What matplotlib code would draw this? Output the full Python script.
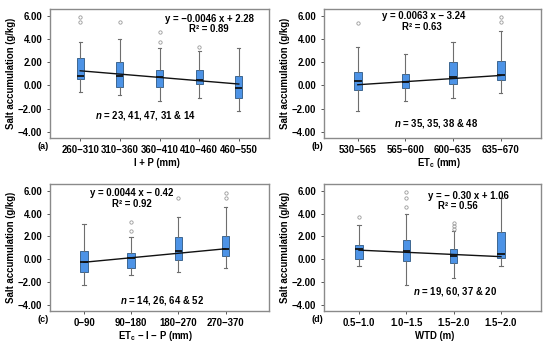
import matplotlib
matplotlib.use("Agg")
import matplotlib.pyplot as plt
from matplotlib.ticker import FuncFormatter

plt.rcParams['font.family'] = ['Liberation Sans', 'DejaVu Sans']
plt.rcParams['font.weight'] = 'bold'
plt.rcParams['mathtext.fontset'] = 'custom'
plt.rcParams['mathtext.rm'] = 'Liberation Sans:bold'
plt.rcParams['mathtext.bf'] = 'Liberation Sans:bold'
plt.rcParams['mathtext.it'] = 'Liberation Sans:italic:bold'
plt.rcParams['mathtext.bfit'] = 'Liberation Sans:italic:bold'

# ---- panel (a): I + P ----
a_cats = ['260\u2212310', '310\u2212360', '360\u2212410', '410\u2212460', '460\u2212550']
a_whislo = [-0.57, -0.80, -1.38, -1.12, -2.21]
a_q1 = [0.52, -0.11, -0.17, 0.11, -1.12]
a_med = [0.83, 0.78, 0.69, 0.50, -0.20]
a_q3 = [2.39, 1.98, 1.32, 1.29, 0.78]
a_whishi = [3.71, 3.97, 3.19, 2.96, 3.19]
a_fliers = [[5.43, 5.89], [5.43], [3.71, 4.63], [3.28], []]
a_trend = [1.26, 0.12]
a_eq = 'y = \u22120.0046 x + 2.28'
a_r2 = 'R\u00b2 = 0.89'
a_n = '23, 41, 47, 31 & 14'

# ---- panel (b): ETc ----
b_cats = ['530\u2212565', '565\u2212600', '600\u2212635', '635\u2212670']
b_whislo = [-2.18, -1.32, -1.09, -0.66]
b_q1 = [-0.40, -0.26, 0.11, 0.43]
b_med = [0.38, 0.32, 0.75, 0.90]
b_q3 = [1.18, 1.01, 2.04, 2.10]
b_whishi = [3.30, 2.73, 3.71, 4.66]
b_fliers = [[5.40], [], [], [5.43, 5.89]]
b_trend = [0.06, 0.86]
b_eq = 'y = 0.0063 x \u2212 3.24'
b_r2 = 'R\u00b2 = 0.63'
b_n = '35, 35, 38 & 48'

# ---- panel (c): ETc - I - P ----
c_cats = ['0\u221290', '90\u2212180', '180\u2212270', '270\u2212370']
c_whislo = [-2.24, -1.38, -1.12, -0.72]
c_q1 = [-1.12, -0.72, -0.03, 0.26]
c_med = [-0.26, 0.11, 0.75, 0.88]
c_q3 = [0.75, 0.55, 1.98, 2.07]
c_whishi = [3.13, 1.93, 3.71, 4.57]
c_fliers = [[], [2.50, 3.22], [5.34], [5.37, 5.80]]
c_trend = [-0.26, 0.92]
c_eq = 'y = 0.0044 x \u2212 0.42'
c_r2 = 'R\u00b2 = 0.92'
c_n = '14, 26, 64 & 52'

# ---- panel (d): WTD ----
d_cats = ['0.5\u22121.0', '1.0\u22121.5', '1.5\u22122.0', '1.5\u22122.0']
d_whislo = [-0.55, -2.24, -1.67, -0.63]
d_q1 = [0.0, -0.11, -0.29, 0.09]
d_med = [0.86, 0.72, 0.29, 0.46]
d_q3 = [1.29, 1.70, 0.89, 2.39]
d_whishi = [2.96, 3.94, 2.47, 5.37]
d_fliers = [[3.68], [4.60, 5.40, 5.89], [2.64, 2.87, 3.19], []]
d_trend = [0.80, 0.23]
d_eq = 'y = \u2212 0.30 x + 1.06'
d_r2 = 'R\u00b2 = 0.56'
d_n = '19, 60, 37 & 20'

panels = [
    dict(rect=[0.091, 0.602, 0.398, 0.372], xlim=(0.24, 5.76), cats=a_cats,
         lo=a_whislo, q1=a_q1, med=a_med, q3=a_q3, hi=a_whishi, fl=a_fliers,
         trend=a_trend, eq=a_eq, r2=a_r2, n=a_n, width=0.18,
         eqpos=(0.726, 0.922), r2pos=(0.726, 0.845), npos=(0.436, 0.169),
         xlabel='I + P (mm)', xlpos=0.489, tag='(a)'),
    dict(rect=[0.589, 0.602, 0.395, 0.372], xlim=(0.29, 4.85), cats=b_cats,
         lo=b_whislo, q1=b_q1, med=b_med, q3=b_q3, hi=b_whishi, fl=b_fliers,
         trend=b_trend, eq=b_eq, r2=b_r2, n=b_n, width=0.16,
         eqpos=(0.46, 0.948), r2pos=(0.45, 0.862), npos=(0.516, 0.112),
         xlabel='ET$_{\\mathbf{c}}$ (mm)', xlpos=0.528, tag='(b)'),
    dict(rect=[0.091, 0.102, 0.398, 0.366], xlim=(0.28, 4.92), cats=c_cats,
         lo=c_whislo, q1=c_q1, med=c_med, q3=c_q3, hi=c_whishi, fl=c_fliers,
         trend=c_trend, eq=c_eq, r2=c_r2, n=c_n, width=0.16,
         eqpos=(0.373, 0.929), r2pos=(0.373, 0.845), npos=(0.511, 0.082),
         xlabel='ET$_{\\mathbf{c}}$ \u2212 I \u2212 P (mm)', xlpos=0.483, tag='(c)'),
    dict(rect=[0.589, 0.102, 0.395, 0.366], xlim=(0.26, 4.85), cats=d_cats,
         lo=d_whislo, q1=d_q1, med=d_med, q3=d_q3, hi=d_whishi, fl=d_fliers,
         trend=d_trend, eq=d_eq, r2=d_r2, n=d_n, width=0.16,
         eqpos=(0.664, 0.903), r2pos=(0.617, 0.824), npos=(0.604, 0.153),
         xlabel='WTD (m)', xlpos=0.512, tag='(d)'),
]

fig = plt.figure(figsize=(5.5, 3.46), dpi=100)
fs = 6.9
spine_col = '#8a8a8a'

for p in panels:
    ax = fig.add_axes(p['rect'])
    stats = []
    for i in range(len(p['cats'])):
        stats.append(dict(med=p['med'][i], q1=p['q1'][i], q3=p['q3'][i],
                          whislo=p['lo'][i], whishi=p['hi'][i], fliers=p['fl'][i]))
    pos = list(range(1, len(p['cats']) + 1))
    ax.bxp(stats, positions=pos, widths=p['width'], patch_artist=True,
           capwidths=p['width'] * 0.45,
           boxprops=dict(facecolor='#4d93e6', edgecolor='#3d6690', linewidth=0.7),
           medianprops=dict(color='#111111', linewidth=1.3),
           whiskerprops=dict(color='#6e6e6e', linewidth=0.8),
           capprops=dict(color='#6e6e6e', linewidth=0.8),
           flierprops=dict(marker='o', markersize=2.4, markerfacecolor='none',
                           markeredgecolor='#9a9a9a', markeredgewidth=0.6))
    ax.plot([pos[0], pos[-1]], p['trend'], color='#111111', linewidth=1.0, zorder=5)

    ax.set_xlim(*p['xlim'])
    ax.set_ylim(-4.5, 6.58)
    ax.set_yticks([-4, -2, 0, 2, 4, 6])
    ax.yaxis.set_major_formatter(FuncFormatter(lambda v, _: ('%.2f' % v).replace('-', '\u2212')))
    ax.set_xticks(pos)
    ax.set_xticklabels(p['cats'])
    ax.tick_params(labelsize=fs, length=2.5, width=0.7, color='#555555', pad=3)
    for s in ax.spines.values():
        s.set_color(spine_col)
        s.set_linewidth(1.0)

    ax.set_ylabel('Salt accumulation (g/kg)', fontsize=fs, fontweight='bold')
    ax.yaxis.set_label_coords(-0.155, 0.5)
    ax.set_xlabel(p['xlabel'], fontsize=fs, fontweight='bold')
    ax.xaxis.set_label_coords(p['xlpos'], -0.198)
    ax.xaxis.label.set_va('center')

    ax.text(*p['eqpos'], p['eq'], transform=ax.transAxes, ha='center', va='center',
            fontsize=fs, fontweight='bold')
    ax.text(*p['r2pos'], p['r2'], transform=ax.transAxes, ha='center', va='center',
            fontsize=fs, fontweight='bold')
    ax.text(*p['npos'], '$\\mathbfit{n}$ = ' + p['n'], transform=ax.transAxes,
            ha='center', va='center', fontsize=fs, fontweight='bold')
    ax.text(-0.03, -0.072, p['tag'], transform=ax.transAxes, ha='center', va='center',
            fontsize=fs - 0.4, fontweight='bold')

fig.savefig('out.png', dpi=100)
